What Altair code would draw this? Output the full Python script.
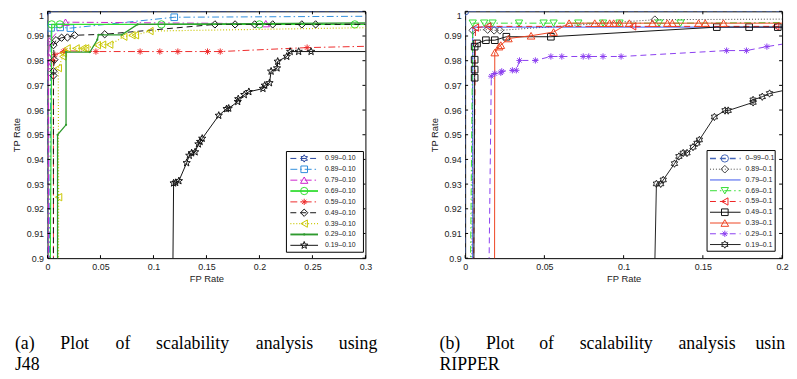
import math
import altair as alt
import pandas as pd

# ------------------------------------------------------------------
# Data: (a) J48
# ------------------------------------------------------------------
j48_names = ["0.99\u20130.10", "0.89\u20130.10", "0.79\u20130.10", "0.69\u20130.10", "0.59\u20130.10",
             "0.49\u20130.10", "0.39\u20130.10", "0.29\u20130.10", "0.19\u20130.10"]

j48_s1_x = [0.0, 0.0, 0.35]
j48_s1_y = [0.85, 1.0, 1.0]
j48_s2_x = [0.001, 0.0034, 0.012, 0.0216, 0.1196, 0.35]
j48_s2_y = [0.85, 0.9933, 0.9935, 0.9932, 0.9976, 0.9981]
j48_s3_x = [0.001, 0.001, 0.001, 0.002, 0.017, 0.206, 0.35]
j48_s3_y = [0.85, 0.978, 0.9817, 0.988, 0.9956, 0.995, 0.995]
j48_s4_x = [0.002, 0.004, 0.0117, 0.1075, 0.2, 0.29, 0.35]
j48_s4_y = [0.85, 0.9947, 0.9947, 0.9947, 0.9947, 0.9947, 0.9947]
j48_s5_x = [0.0056, 0.0056, 0.007, 0.015, 0.0165, 0.0457, 0.0874, 0.106, 0.123, 0.151, 0.163, 0.245, 0.35]
j48_s5_y = [0.85, 0.98, 0.9824, 0.9837, 0.984, 0.9837, 0.9837, 0.9837, 0.9837, 0.9837, 0.9837, 0.9853, 0.9863]
j48_s6_x = [0.0056, 0.0056, 0.0056, 0.0065, 0.0056, 0.008, 0.0133, 0.0188, 0.0256, 0.054,
            0.158, 0.177, 0.1955, 0.2125, 0.24, 0.253, 0.35]
j48_s6_y = [0.85, 0.974, 0.9757, 0.9804, 0.9863, 0.9883, 0.9893, 0.9894, 0.9903, 0.9907,
            0.9947, 0.9947, 0.9947, 0.9947, 0.9947, 0.9947, 0.9947]
j48_s7_x = [0.0102, 0.0105, 0.0102, 0.0145, 0.015, 0.0185, 0.027, 0.0334, 0.036, 0.047, 0.052,
            0.0587, 0.072, 0.0797, 0.083, 0.0967, 0.35]
j48_s7_y = [0.85, 0.9247, 0.977, 0.9817, 0.983, 0.985, 0.985, 0.985, 0.985, 0.9863, 0.9865,
            0.9865, 0.9897, 0.9903, 0.9903, 0.992, 0.9937]
j48_s8_x = [0.0095, 0.0095, 0.0175, 0.0175, 0.04, 0.047, 0.048, 0.07, 0.085, 0.35]
j48_s8_y = [0.85, 0.95, 0.954, 0.9835, 0.9835, 0.9885, 0.9905, 0.9905, 0.9947, 0.9955]
j48_s9_x = [0.1174, 0.119, 0.121, 0.124, 0.1313, 0.1338, 0.136, 0.1393, 0.1424, 0.144, 0.146,
            0.1616, 0.169, 0.171, 0.1795, 0.180, 0.1857, 0.190, 0.2033, 0.205, 0.2095, 0.211,
            0.2166, 0.2172, 0.2258, 0.229, 0.237, 0.2487, 0.35]
j48_s9_y = [0.85, 0.9304, 0.9306, 0.9313, 0.9386, 0.9416, 0.9426, 0.943, 0.9462, 0.9472, 0.9485,
            0.9578, 0.9605, 0.9607, 0.9634, 0.9645, 0.9662, 0.9674, 0.9687, 0.97, 0.971, 0.9757,
            0.977, 0.9797, 0.9817, 0.9837, 0.9837, 0.9837, 0.9837]

# ------------------------------------------------------------------
# Data: (b) RIPPER
# ------------------------------------------------------------------
rip_names = ["0\u201399\u20130.1", "0.89\u20130.1", "0.79\u20130.1", "0.69\u20130.1", "0.59\u20130.1",
             "0.49\u20130.1", "0.39\u20130.1", "0.29\u20130.1", "0.19\u20130.1"]

rip_s1_x = [0.0, 0.0, 0.25]
rip_s1_y = [0.85, 1.0, 1.0]
rip_s2_x = [0.004, 0.0048, 0.0142, 0.0183, 0.0219, 0.1197, 0.25]
rip_s2_y = [0.85, 0.9923, 0.9926, 0.9923, 0.9923, 0.9966, 0.9970]
rip_s3_x = [0.0048, 0.0048, 0.25]
rip_s3_y = [0.85, 0.9936, 0.9936]
rip_s4_x = [0.0027, 0.0048, 0.012, 0.0173, 0.034, 0.0495, 0.0558, 0.0714, 0.087, 0.0974, 0.1224, 0.1359, 0.25]
rip_s4_y = [0.85, 0.9952, 0.9952, 0.9952, 0.9952, 0.9952, 0.9952, 0.9952, 0.9952, 0.9952, 0.9952, 0.9952, 0.9956]
rip_s5_x = [0.0048, 0.0065, 0.0142, 0.1057, 0.196, 0.25]
rip_s5_y = [0.85, 0.9934, 0.9939, 0.9939, 0.9939, 0.9939]
rip_s6_x = [0.0052, 0.006, 0.006, 0.006, 0.006, 0.0075, 0.0131, 0.0187, 0.026, 0.0541, 0.1588, 0.1792, 0.1973, 0.25]
rip_s6_y = [0.85, 0.9731, 0.9764, 0.9804, 0.9857, 0.987, 0.9883, 0.9883, 0.9897, 0.9897, 0.9936, 0.9936, 0.9936, 0.9936]
rip_s7_x = [0.0185, 0.0187, 0.0214, 0.0225, 0.0273, 0.0416, 0.0558, 0.0656, 0.0818, 0.0866, 0.0912,
            0.0937, 0.0974, 0.1036, 0.1182, 0.1276, 0.1307, 0.1473, 0.1515, 0.163, 0.25]
rip_s7_y = [0.85, 0.9833, 0.9857, 0.9863, 0.989, 0.9901, 0.9916, 0.9952, 0.9952, 0.9952, 0.9952,
            0.9952, 0.9952, 0.9952, 0.9952, 0.9952, 0.9952, 0.9952, 0.9952, 0.9952, 0.9952]
rip_s8_x = [0.0142, 0.0165, 0.0187, 0.0225, 0.0231, 0.0298, 0.0323, 0.0343, 0.0443, 0.0541, 0.061,
            0.0745, 0.078, 0.087, 0.0984, 0.165, 0.1775, 0.1904, 0.21]
rip_s8_y = [0.85, 0.9737, 0.9748, 0.9751, 0.9757, 0.9761, 0.9761, 0.9801, 0.9801, 0.9817, 0.9817,
            0.9817, 0.9817, 0.9817, 0.9817, 0.9841, 0.9841, 0.9857, 0.9877]
rip_s9_x = [0.1182, 0.1207, 0.1234, 0.125, 0.1321, 0.1349, 0.1376, 0.14, 0.1438, 0.1463, 0.1478,
            0.1573, 0.164, 0.166, 0.1817, 0.1817, 0.1875, 0.1921, 0.215]
rip_s9_y = [0.85, 0.9301, 0.9301, 0.9317, 0.9383, 0.9412, 0.9426, 0.9426, 0.945, 0.9466, 0.9479,
            0.9572, 0.9598, 0.9598, 0.9631, 0.9641, 0.9654, 0.9667, 0.9699]

# Tick labels
j48_xticks = [0.0, 0.05, 0.1, 0.15, 0.2, 0.25, 0.3]
rip_xticks = [0.0, 0.05, 0.1, 0.15, 0.2]
yticks = [0.9, 0.91, 0.92, 0.93, 0.94, 0.95, 0.96, 0.97, 0.98, 0.99, 1.0]

# Captions
cap_a_line1 = ["(a)", "Plot", "of", "scalability", "analysis", "using"]
cap_a_line2 = "J48"
cap_b_line1 = ["(b)", "Plot", "of", "scalability", "analysis", "using"]
cap_b_line2 = "RIPPER"

# ------------------------------------------------------------------
# Styles
# ------------------------------------------------------------------
def star_path(n, r_in):
    pts = []
    for i in range(2 * n):
        r = 1.0 if i % 2 == 0 else r_in
        a = -math.pi / 2 + i * math.pi / n
        pts.append(f"{r*math.cos(a):.4f},{r*math.sin(a):.4f}")
    return "M" + "L".join(pts) + "Z"

HEXAGRAM = star_path(6, 0.577)
PENTAGRAM = star_path(5, 0.42)
ASTERISK = "M-1,0L1,0M0,-1L0,1M-0.7,-0.7L0.7,0.7M-0.7,0.7L0.7,-0.7"
DOT = "circle"

DASH = [6, 4]
DASHDOT = [7, 3, 1.5, 3]
DOTTED = [1, 2]
SOLID = None

j48_styles = [
    dict(color="#24429b", dash=DASH, width=1, shape=HEXAGRAM, filled=False, size=55),
    dict(color="#2f8ddb", dash=DASHDOT, width=1, shape="square", filled=False, size=45),
    dict(color="#cc22cc", dash=DASHDOT, width=1, shape="triangle-up", filled=False, size=55),
    dict(color="#33dd33", dash=SOLID, width=1.2, shape="circle", filled=False, size=55),
    dict(color="#ee2b2b", dash=DASHDOT, width=1, shape=ASTERISK, filled=False, size=40),
    dict(color="#111111", dash=DASH, width=1, shape="diamond", filled=False, size=55),
    dict(color="#c9c700", dash=DOTTED, width=1.2, shape="triangle-left", filled=False, size=55),
    dict(color="#2e9a2e", dash=SOLID, width=1.3, shape=DOT, filled=True, size=5),
    dict(color="#111111", dash=SOLID, width=1, shape=PENTAGRAM, filled=False, size=60),
]
rip_styles = [
    dict(color="#4466b8", dash=DASH, width=1, shape="circle", filled=False, size=55),
    dict(color="#444444", dash=DOTTED, width=1, shape="diamond", filled=False, size=60),
    dict(color="#3b55ee", dash=SOLID, width=1, shape=None, filled=False, size=0),
    dict(color="#33dd33", dash=DASHDOT, width=1, shape="triangle-down", filled=False, size=55),
    dict(color="#ee2222", dash=DASH, width=1, shape="triangle-left", filled=False, size=55),
    dict(color="#111111", dash=SOLID, width=1, shape="square", filled=False, size=45),
    dict(color="#ee4422", dash=SOLID, width=1, shape="triangle-up", filled=False, size=60),
    dict(color="#8a3ef0", dash=DASH, width=1, shape=ASTERISK, filled=False, size=40),
    dict(color="#222222", dash=SOLID, width=1, shape=HEXAGRAM, filled=False, size=55),
]

FONT = "Liberation Sans"
SERIF = "Liberation Serif"
H = 250
dummy = pd.DataFrame({"k": [0]})


def make_panel(names, xs_list, ys_list, styles, xmax, xticks, W,
               leg_box, leg_rows, leg_line, leg_mark_x, leg_text_x,
               cap_words, cap_x, cap_line2, cap_limit_right):
    xscale = alt.Scale(domain=[0, xmax], nice=False, zero=False)
    yscale = alt.Scale(domain=[0.9, 1.0], nice=False, zero=False)
    xaxis = alt.Axis(values=xticks, format=".2~f", title="FP Rate", tickSize=0, domain=False,
                     grid=False, labelFlush=False, labelOverlap=False, labelPadding=4,
                     labelFontSize=9, titleFontSize=9.5, titlePadding=3,
                     titleFontWeight="normal", labelColor="#222", titleColor="#222",
                     labelFont=FONT, titleFont=FONT)
    yaxis = alt.Axis(values=yticks, format=".2~f", title="TP Rate", tickSize=0, domain=False,
                     grid=False, labelFlush=False, labelOverlap=False, labelPadding=4,
                     labelBaseline={"condition": {"test": "datum.value >= 0.999", "value": "top"},
                                    "value": "middle"},
                     labelFontSize=9, titleFontSize=9.5, titlePadding=4, minExtent=22,
                     maxExtent=22, titleFontWeight="normal", labelColor="#222",
                     titleColor="#222", labelFont=FONT, titleFont=FONT)
    layers = []
    for xs, ys, st in zip(xs_list, ys_list, styles):
        df = pd.DataFrame({"x": xs, "y": ys, "o": list(range(len(xs)))})
        enc = dict(x=alt.X("x:Q", scale=xscale, axis=xaxis),
                   y=alt.Y("y:Q", scale=yscale, axis=yaxis))
        lkw = dict(clip=True, color=st["color"], strokeWidth=st["width"])
        if st["dash"]:
            lkw["strokeDash"] = st["dash"]
        layers.append(alt.Chart(df).mark_line(**lkw).encode(order="o:Q", **enc))
        if st["shape"]:
            layers.append(alt.Chart(df).mark_point(
                clip=True, shape=st["shape"], size=st["size"], filled=st["filled"],
                color=st["color"], strokeWidth=1, opacity=1).encode(**enc))
    # inward ticks
    xt = pd.DataFrame({"t": xticks})
    yt = pd.DataFrame({"t": yticks})
    xe = alt.X("t:Q", scale=xscale, axis=xaxis)
    ye = alt.Y("t:Q", scale=yscale, axis=yaxis)
    layers.append(alt.Chart(xt).mark_rule(color="black").encode(x=xe, y=alt.value(H), y2=alt.value(H - 3)))
    layers.append(alt.Chart(xt).mark_rule(color="black").encode(x=xe, y=alt.value(0), y2=alt.value(3)))
    layers.append(alt.Chart(yt).mark_rule(color="black").encode(y=ye, x=alt.value(0), x2=alt.value(3)))
    layers.append(alt.Chart(yt).mark_rule(color="black").encode(y=ye, x=alt.value(W), x2=alt.value(W - 3)))
    # legend box
    bx0, bx1, by0, by1 = leg_box
    layers.append(alt.Chart(dummy).mark_rect(fill="white", stroke="black", strokeWidth=1).encode(
        x=alt.value(bx0), x2=alt.value(bx1), y=alt.value(by0), y2=alt.value(by1)))
    for name, st, yy in zip(names, styles, leg_rows):
        rkw = dict(color=st["color"], strokeWidth=st["width"] + (0.6 if st["shape"] == DOT else 0))
        if st["dash"]:
            rkw["strokeDash"] = st["dash"]
        layers.append(alt.Chart(dummy).mark_rule(**rkw).encode(
            x=alt.value(leg_line[0]), x2=alt.value(leg_line[1]), y=alt.value(yy)))
        if st["shape"]:
            layers.append(alt.Chart(dummy).mark_point(
                shape=st["shape"], size=st["size"], filled=st["filled"], color=st["color"],
                strokeWidth=1, opacity=1).encode(x=alt.value(leg_mark_x), y=alt.value(yy)))
        layers.append(alt.Chart(dummy).mark_text(
            align="left", baseline="middle", fontSize=7, font=FONT, color="#222").encode(
            x=alt.value(leg_text_x), y=alt.value(yy), text=alt.value(name)))
    # caption
    for word, cx in zip(cap_words, cap_x):
        tkw = dict(align="left", baseline="alphabetic", fontSize=18, font=SERIF, color="black")
        if cap_limit_right is not None and cx + 45 > cap_limit_right:
            tkw["limit"] = cap_limit_right - cx
            tkw["ellipsis"] = "\u200b"
        layers.append(alt.Chart(dummy).mark_text(**tkw).encode(
            x=alt.value(cx), y=alt.value(H + 92), text=alt.value(word)))
    layers.append(alt.Chart(dummy).mark_text(
        align="left", baseline="alphabetic", fontSize=18, font=SERIF, color="black").encode(
        x=alt.value(cap_x[0]), y=alt.value(H + 113), text=alt.value(cap_line2)))
    return alt.layer(*layers).properties(width=W, height=H)


WL = 322
WR = 321
left = make_panel(
    j48_names,
    [j48_s1_x, j48_s2_x, j48_s3_x, j48_s4_x, j48_s5_x, j48_s6_x, j48_s7_x, j48_s8_x, j48_s9_x],
    [j48_s1_y, j48_s2_y, j48_s3_y, j48_s4_y, j48_s5_y, j48_s6_y, j48_s7_y, j48_s8_y, j48_s9_y],
    j48_styles, 0.3, j48_xticks, WL,
    leg_box=(242, 320, 142, 244),
    leg_rows=[149 + 11 * i for i in range(9)],
    leg_line=(246, 274), leg_mark_x=260, leg_text_x=281,
    cap_words=cap_a_line1, cap_x=[13 - 46, 59 - 46, 115 - 46, 156 - 46, 257 - 46, 341 - 46],
    cap_line2=cap_a_line2, cap_limit_right=None,
)
right = make_panel(
    rip_names,
    [rip_s1_x, rip_s2_x, rip_s3_x, rip_s4_x, rip_s5_x, rip_s6_x, rip_s7_x, rip_s8_x, rip_s9_x],
    [rip_s1_y, rip_s2_y, rip_s3_y, rip_s4_y, rip_s5_y, rip_s6_y, rip_s7_y, rip_s8_y, rip_s9_y],
    rip_styles, 0.2, rip_xticks, WR,
    leg_box=(245, 314, 141, 243),
    leg_rows=[149 + 10.9 * i for i in range(9)],
    leg_line=(248, 279), leg_mark_x=263, leg_text_x=284,
    cap_words=cap_b_line1, cap_x=[443 - 469, 490 - 469, 544 - 469, 585 - 469, 685 - 469, 763 - 469],
    cap_line2=cap_b_line2, cap_limit_right=797 - 469 - 1,
)

chart = alt.hconcat(left, right, spacing=101, bounds="flush").properties(
    padding={"left": 3, "top": 0, "right": 0, "bottom": 0}
).configure_view(stroke="black", strokeWidth=1)

chart.save("out.html", embed_options={"renderer": "svg", "actions": False})
